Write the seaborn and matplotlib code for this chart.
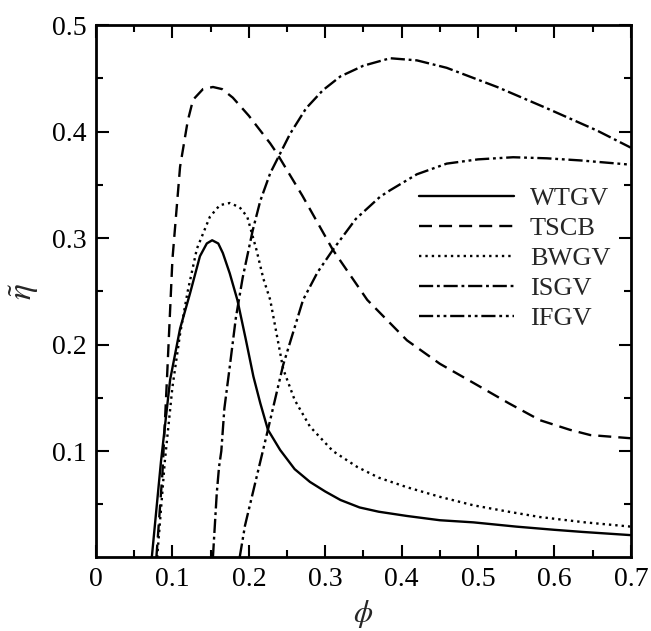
import pandas as pd
import numpy as np
import matplotlib
matplotlib.use("Agg")
import matplotlib.pyplot as plt
import seaborn as sns

# Кривые
wtgv_phi = [0.073, 0.085, 0.097, 0.11, 0.123, 0.136, 0.145, 0.152, 0.16, 0.166, 0.175,
            0.185, 0.196, 0.206, 0.215, 0.225, 0.241, 0.26, 0.28, 0.3, 0.32, 0.345, 0.37,
            0.407, 0.45, 0.494, 0.55, 0.6, 0.637, 0.7]
wtgv_eta = [0.0, 0.09, 0.167, 0.215, 0.248, 0.283, 0.295, 0.298, 0.295, 0.286, 0.267,
            0.242, 0.205, 0.17, 0.145, 0.12, 0.101, 0.083, 0.071, 0.062, 0.054, 0.047, 0.043,
            0.039, 0.035, 0.033, 0.029, 0.026, 0.024, 0.021]

tscb_phi = [0.079, 0.087, 0.093, 0.1, 0.11, 0.12, 0.127, 0.14, 0.153, 0.165, 0.179,
            0.2, 0.228, 0.2365, 0.27, 0.31, 0.355, 0.407, 0.45, 0.494, 0.54, 0.581,
            0.62, 0.647, 0.7]
tscb_eta = [0.0, 0.08, 0.17, 0.28, 0.367, 0.41, 0.43, 0.44, 0.442, 0.44, 0.432,
            0.415, 0.389, 0.38, 0.34, 0.289, 0.242, 0.204, 0.182, 0.164, 0.145, 0.129,
            0.12, 0.115, 0.112]

bwgv_phi = [0.08, 0.09, 0.1, 0.11, 0.12, 0.132, 0.149, 0.162, 0.175, 0.188, 0.198,
            0.21, 0.219, 0.228, 0.245, 0.26, 0.28, 0.31, 0.342, 0.37, 0.407, 0.45,
            0.494, 0.54, 0.581, 0.64, 0.7]
bwgv_eta = [0.0, 0.09, 0.16, 0.21, 0.25, 0.29, 0.32, 0.331, 0.333, 0.329, 0.32,
            0.289, 0.262, 0.242, 0.177, 0.148, 0.123, 0.1, 0.085, 0.075, 0.066, 0.057,
            0.049, 0.043, 0.038, 0.033, 0.029]

isgv_phi = [0.153, 0.158, 0.161, 0.164, 0.168, 0.175, 0.183, 0.192, 0.205, 0.215, 0.228,
            0.254, 0.275, 0.297, 0.32, 0.35, 0.385, 0.42, 0.459, 0.525, 0.59, 0.656, 0.7]
isgv_eta = [0.0, 0.06, 0.085, 0.1, 0.14, 0.179, 0.225, 0.263, 0.307, 0.335, 0.361,
            0.398, 0.422, 0.439, 0.452, 0.462, 0.469, 0.467, 0.46, 0.442, 0.422, 0.401, 0.385]

ifgv_phi = [0.188, 0.195, 0.21, 0.225, 0.245, 0.271, 0.29, 0.31, 0.34, 0.372, 0.385,
            0.42, 0.459, 0.5, 0.546, 0.59, 0.634, 0.7]
ifgv_eta = [0.0, 0.03, 0.075, 0.12, 0.181, 0.242, 0.268, 0.289, 0.318, 0.339, 0.345,
            0.36, 0.37, 0.374, 0.376, 0.375, 0.373, 0.369]

series_names = ["WTGV", "TSCB", "BWGV", "ISGV", "IFGV"]
x_ticks = [0.0, 0.1, 0.2, 0.3, 0.4, 0.5, 0.6, 0.7]
x_tick_labels = ["0", "0.1", "0.2", "0.3", "0.4", "0.5", "0.6", "0.7"]
y_ticks = [0.1, 0.2, 0.3, 0.4, 0.5]
y_tick_labels = ["0.1", "0.2", "0.3", "0.4", "0.5"]

frames = []
for name, xs, ys in zip(series_names,
                        [wtgv_phi, tscb_phi, bwgv_phi, isgv_phi, ifgv_phi],
                        [wtgv_eta, tscb_eta, bwgv_eta, isgv_eta, ifgv_eta]):
    frames.append(pd.DataFrame({"phi": xs, "eta": ys, "series": name}))
df = pd.concat(frames, ignore_index=True)

sns.set_theme(style="ticks")
plt.rcParams["font.family"] = ["Liberation Serif", "DejaVu Serif"]
plt.rcParams["mathtext.fontset"] = "stix"

fig = plt.figure(figsize=(6.51, 6.31), dpi=100)
ax = fig.add_axes([0.1475, 0.1165, 0.8215, 0.8435])

dashes = {
    "WTGV": "",
    "TSCB": (5.5, 3),
    "BWGV": (1, 1.7),
    "ISGV": (6, 1.6, 1.2, 1.6),
    "IFGV": (6, 1.6, 1.2, 1.6, 1.2, 1.6),
}
sns.lineplot(data=df, x="phi", y="eta", hue="series", style="series",
             hue_order=series_names, style_order=series_names,
             palette=["black"] * 5, dashes=dashes, estimator=None, sort=False,
             linewidth=1.7, ax=ax)

ax.set_xlim(0, 0.7)
ax.set_ylim(0, 0.5)
ax.set_xticks(x_ticks)
ax.set_xticklabels(x_tick_labels)
ax.set_yticks(y_ticks)
ax.set_yticklabels(y_tick_labels)
ax.set_xticks(np.arange(0.05, 0.7, 0.1), minor=True)
ax.set_yticks(np.arange(0.05, 0.5, 0.1), minor=True)
ax.tick_params(which="both", direction="in", top=True, right=True, width=1.5,
               labelsize=20, colors="black", pad=7)
ax.tick_params(which="major", length=9)
ax.tick_params(which="minor", length=5)
for sp in ax.spines.values():
    sp.set_linewidth(2)
    sp.set_color("black")

ax.set_xlabel(r"$\phi$", fontsize=22, labelpad=4)
ax.set_ylabel(r"$\tilde{\eta}$", fontsize=24, labelpad=8)

sns.move_legend(ax, "upper left", bbox_to_anchor=(0.584, 0.717), frameon=False,
                title=None, fontsize=19, handlelength=3.6, handletextpad=0.6,
                labelspacing=0.25, borderaxespad=0)

fig.savefig("out.png", dpi=100)
